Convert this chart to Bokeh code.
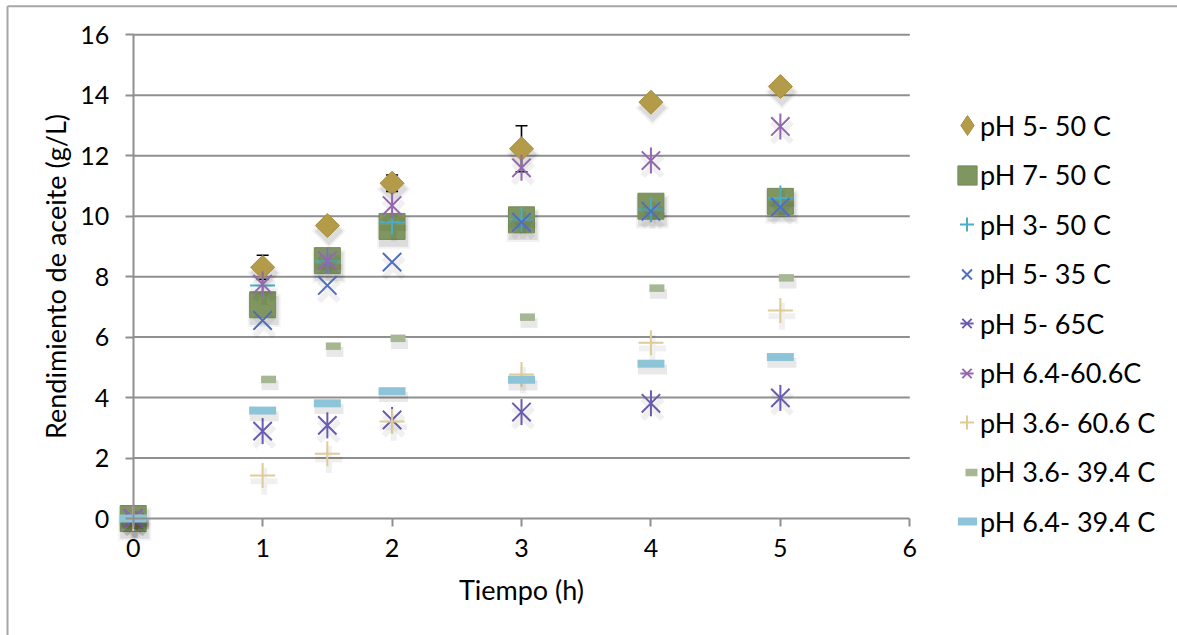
import numpy as np
from bokeh.plotting import figure
from bokeh.models import (Legend, LegendItem, ColumnDataSource, FixedTicker)
from bokeh.transform import dodge
from bokeh.embed import file_html
from bokeh.resources import INLINE

# ---------------- data ----------------
tiempo = [0, 1, 1.5, 2, 3, 4, 5]
ph5_50 = [0, 8.31, 9.69, 11.09, 12.23, 13.77, 14.29]
ph5_50_err = [0, 0.40, 0.10, 0.27, 0.76, 0.10, 0.05]
ph7_50 = [0, 7.07, 8.53, 9.66, 9.88, 10.33, 10.49]
ph3_50 = [0, 7.71, 8.51, 9.80, 9.89, 10.22, 10.60]
ph5_35 = [0, 6.55, 7.71, 8.48, 9.80, 10.16, 10.30]
ph5_65 = [0, 2.89, 3.08, 3.26, 3.52, 3.81, 3.99]
ph64_606 = [0, 7.75, 8.53, 10.35, 11.60, 11.84, 12.97]
ph36_606 = [0, 1.42, 2.14, 3.21, 4.76, 5.81, 6.88]
ph36_394 = [0, 4.60, 5.70, 5.96, 6.66, 7.62, 7.96]
ph64_394 = [0, 3.57, 3.81, 4.21, 4.59, 5.12, 5.34]

series_labels = ["pH 5- 50 C", "pH 7- 50 C", "pH 3- 50 C", "pH 5- 35 C", "pH 5- 65C",
                 "pH 6.4-60.6C", "pH 3.6- 60.6 C", "pH 3.6- 39.4 C", "pH 6.4- 39.4 C"]
x_ticks = [0, 1, 2, 3, 4, 5, 6]
y_ticks = [0, 2, 4, 6, 8, 10, 12, 14, 16]
x_title = "Tiempo (h)"
y_title = "Rendimiento de aceite (g/L)"

# ---------------- layout (pixels) ----------------
W, H = 1177, 635
PX0, PX6 = 132.7, 909.3      # where x=0 and x=6 fall
PY0, PY16 = 518.0, 34.3      # where y=0 and y=16 fall
SXU = (PX6 - PX0) / (x_ticks[-1] - x_ticks[0])
SYU = (PY0 - PY16) / (y_ticks[-1] - y_ticks[0])

# ---------------- style ----------------
FONT = "Lato"
C_DIAMOND = "#B39B49"
C_SQUARE = "#7F9660"
C_PLUS = "#4BACC6"
C_X = "#4F6EC0"
C_AST1 = "#6A5BAE"
C_AST2 = "#9567B0"
C_TAN = "#DDCC97"
C_SMALL = "#A5B793"
C_WIDE = "#8EC4D7"
GRID = "#8f8f8f"
BORDER = "#a6a6a6"

src = ColumnDataSource(dict(
    t=tiempo, a=ph5_50, b=ph7_50, c=ph3_50, d=ph5_35, e=ph5_65, f=ph64_606,
    g=ph36_606, h=ph36_394, i=ph64_394,
    up=list(np.array(ph5_50) + np.array(ph5_50_err)),
    lo=list(np.array(ph5_50) - np.array(ph5_50_err)),
))

p = figure(width=W, height=H,
           x_range=(-PX0 / SXU, (W - PX0) / SXU),
           y_range=(-(H - PY0) / SYU, PY0 / SYU),
           output_backend="svg", toolbar_location=None,
           min_border_left=0, min_border_right=0, min_border_top=0, min_border_bottom=0)
p.outline_line_color = None
p.background_fill_color = "white"
p.border_fill_color = "white"
p.xgrid.visible = False
p.ygrid.visible = False

# chart-area frame: left edge (vertical) and top edge (horizontal)
bx = (7 - PX0) / SXU
by = (PY0 - 5.8) / SYU
p.segment(x0=[bx, bx], y0=[by, by],
          x1=[bx, (W + 10 - PX0) / SXU], y1=[-(H + 10 - PY0) / SYU, by],
          line_color=BORDER, line_width=2)

# horizontal gridlines between x=0 and x=6
p.segment(x0=x_ticks[0], x1=x_ticks[-1], y0=y_ticks[1:], y1=y_ticks[1:],
          line_color=GRID, line_width=2)

for ax, ticks, bounds in ((p.xaxis[0], x_ticks, (x_ticks[0], x_ticks[-1])),
                          (p.yaxis[0], y_ticks, (y_ticks[0], y_ticks[-1]))):
    ax.ticker = FixedTicker(ticks=ticks)
    ax.fixed_location = 0
    ax.bounds = bounds
    ax.axis_line_color = GRID
    ax.axis_line_width = 2
    ax.major_tick_line_color = GRID
    ax.major_tick_line_width = 2
    ax.major_tick_out = 8
    ax.major_tick_in = 0
    ax.minor_tick_line_color = None
    ax.major_label_text_font = FONT
    ax.major_label_text_font_size = "25px"
    ax.major_label_text_color = "black"
    ax.axis_label_text_font = FONT
    ax.axis_label_text_font_size = "27px"
    ax.axis_label_text_font_style = "normal"
    ax.axis_label_text_color = "black"

p.xaxis.axis_label = x_title
p.yaxis.axis_label = y_title
p.xaxis.major_label_standoff = 12
p.xaxis.axis_label_standoff = 13
p.yaxis.major_label_standoff = 16
p.yaxis.axis_label_standoff = 5

SX, SY = 0.012, -0.19  # shadow offset in data units


def filled_shadow(col, marker, size, angle=0.0, xoff=0.0):
    for extra, alpha in ((7, 0.05), (3, 0.09)):
        p.scatter(x=dodge("t", SX + xoff), y=dodge(col, SY), source=src, marker=marker,
                  size=size + extra, angle=angle, fill_color="black", fill_alpha=alpha,
                  line_color=None)


def line_shadow(col, marker, size, angle=0.0, lw=2, xoff=0.0):
    p.scatter(x=dodge("t", SX + xoff), y=dodge(col, SY), source=src, marker=marker,
              size=size + 2, angle=angle, line_color="black", line_alpha=0.06,
              line_width=lw + 4, fill_color=None)


# error bars (pH 5 - 50 C)
p.segment(x0="t", y0="lo", x1="t", y1="up", source=src, line_color="black", line_width=1.6)
p.scatter(x="t", y="up", source=src, marker="dash", size=12, line_color="black", line_width=1.6)
p.scatter(x="t", y="lo", source=src, marker="dash", size=12, line_color="black", line_width=1.6)

rs = {}
# 1 diamond
filled_shadow("a", "square", 17, angle=np.pi / 4)
p.scatter(x="t", y="a", source=src, marker="square", size=17, angle=np.pi / 4,
          fill_color=C_DIAMOND, line_color="#A88F40", line_width=1)
rs[0] = [p.scatter(x=[np.nan], y=[np.nan], marker="diamond", size=20,
                   fill_color=C_DIAMOND, line_color="#A88F40", line_width=1)]
# 2 square
filled_shadow("b", "square", 26)
rs[1] = [p.scatter(x="t", y="b", source=src, marker="square", size=26,
                   fill_color=C_SQUARE, line_color="#748B57", line_width=1)]
# 3 plus cyan
line_shadow("c", "cross", 25)
rs[2] = [p.scatter(x="t", y="c", source=src, marker="cross", size=25,
                   line_color=C_PLUS, line_width=2)]
# 4 x blue
line_shadow("d", "x", 26)
rs[3] = [p.scatter(x="t", y="d", source=src, marker="x", size=26,
                   line_color=C_X, line_width=2)]
# 5 asterisk (X + vertical stroke)
line_shadow("e", "x", 26)
rs[4] = [p.scatter(x="t", y="e", source=src, marker="x", size=26, line_color=C_AST1, line_width=2),
         p.scatter(x="t", y="e", source=src, marker="dash", size=26, angle=np.pi / 2,
                   line_color=C_AST1, line_width=2)]
# 6 asterisk 2
line_shadow("f", "x", 26)
rs[5] = [p.scatter(x="t", y="f", source=src, marker="x", size=26, line_color=C_AST2, line_width=2),
         p.scatter(x="t", y="f", source=src, marker="dash", size=26, angle=np.pi / 2,
                   line_color=C_AST2, line_width=2)]
# 7 plus tan
line_shadow("g", "cross", 25)
rs[6] = [p.scatter(x="t", y="g", source=src, marker="cross", size=25,
                   line_color=C_TAN, line_width=2)]
# 8 small bar
XO = 0.046
p.scatter(x=dodge("t", SX + XO), y=dodge("h", SY), source=src, marker="dash", size=17,
          line_color="black", line_alpha=0.09, line_width=10)
rs[7] = [p.scatter(x=dodge("t", XO), y="h", source=src, marker="dash", size=15,
                   line_color=C_SMALL, line_width=7.5, line_cap="butt")]
# 9 wide bar
p.scatter(x=dodge("t", SX), y=dodge("i", SY), source=src, marker="dash", size=29,
          line_color="black", line_alpha=0.09, line_width=10)
rs[8] = [p.scatter(x="t", y="i", source=src, marker="dash", size=27,
                   line_color=C_WIDE, line_width=8, line_cap="butt")]

# invisible renderer used for text-only legend entries
blank = p.scatter(x=[np.nan], y=[np.nan], marker="square", size=1,
                  fill_alpha=0, line_alpha=0)

# ---------------- legend: swatch legends + text legends ----------------
TEXT_X = 980
centers_y = [125, 174.5, 224, 273.5, 323, 372.5, 422, 471.5, 521]
centers_x = [966.7, 966.7, 966.7, 966.7, 966.7, 966.7, 966.7, 970.7, 966.7]
swatch_w = [52, 48, 35, 35, 33, 33, 35, 30, 48]
ROW = 50
common = dict(padding=0, margin=0, spacing=0, border_line_color=None,
              background_fill_alpha=0, label_text_font=FONT,
              label_text_font_size="27px", label_text_color="black")
for k in range(9):
    w = swatch_w[k]
    cx, cy = centers_x[k], centers_y[k]
    p.add_layout(Legend(items=[LegendItem(label=" ", renderers=rs[k])],
                        location=(cx - w / 2, H - (cy + ROW / 2)),
                        glyph_width=w, glyph_height=ROW, label_height=ROW,
                        label_standoff=0, **common))
    p.add_layout(Legend(items=[LegendItem(label=series_labels[k], renderers=[blank])],
                        location=(TEXT_X - 1, H - (cy + ROW / 2)),
                        glyph_width=1, glyph_height=ROW, label_height=ROW,
                        label_standoff=0, **common))

open("out.html", "w").write(file_html(p, INLINE))
